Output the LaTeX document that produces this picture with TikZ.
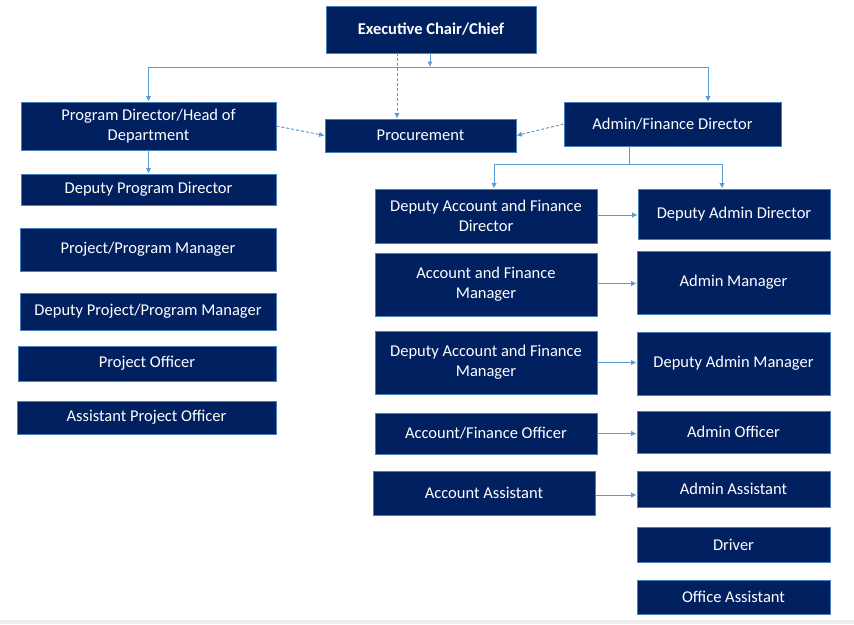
\documentclass[tikz,border=0pt]{standalone}
\usepackage{fontspec}
\setmainfont{Carlito}
\usetikzlibrary{arrows.meta}
\definecolor{navy}{HTML}{002060}
\definecolor{edgeblue}{HTML}{5B9BD5}
\definecolor{boxline}{HTML}{4A7EBB}
\definecolor{strip}{HTML}{EDEDED}
\tikzset{
  box/.style={draw=boxline, line width=0.8pt, fill=navy, text=white, inner sep=0pt, align=center,
    font=\fontsize{16.5}{20}\selectfont},
  conn/.style={draw=edgeblue, line width=1pt},
  arr/.style={conn, -{Latex[length=5.5pt,width=5.5pt]}},
  darr/.style={arr, dashed, dash pattern=on 3pt off 2pt},
}
\begin{document}
\begin{tikzpicture}[x=1pt,y=-1pt]
\useasboundingbox (0,0) rectangle (854,624);
\fill[strip] (0,620) rectangle (854,624);

\node[box, minimum width=210, minimum height=47, font=\fontsize{16.5}{20}\selectfont\bfseries] (exec) at (431,29.5) {Executive Chair/Chief};
\node[box, minimum width=255, minimum height=48] (pd) at (148.5,126) {Program Director/Head of\\Department};
\node[box, minimum width=191, minimum height=33] (proc) at (420.5,135.5) {Procurement};
\node[box, minimum width=217, minimum height=44] (afd) at (672.5,124) {Admin/Finance Director};

\node[box, minimum width=255, minimum height=31] (dpd) at (148.5,189.5) {Deputy Program Director};
\node[box, minimum width=256, minimum height=43] (ppm) at (148,249.5) {Project/Program Manager};
\node[box, minimum width=256, minimum height=37] (dppm) at (148,311.5) {Deputy Project/Program Manager};
\node[box, minimum width=258, minimum height=35] (po) at (147,363.5) {Project Officer};
\node[box, minimum width=259, minimum height=33] (apo) at (146.5,417.5) {Assistant Project Officer};

\node[box, minimum width=222, minimum height=54] (dafd) at (486,216) {Deputy Account and Finance\\Director};
\node[box, minimum width=192, minimum height=50] (dad) at (734,214) {Deputy Admin Director};
\node[box, minimum width=222, minimum height=63] (afm) at (486,284.5) {Account and Finance\\Manager};
\node[box, minimum width=193, minimum height=63] (am) at (733.5,282.5) {Admin Manager};
\node[box, minimum width=222, minimum height=63] (dafm) at (486,362.5) {Deputy Account and Finance\\Manager};
\node[box, minimum width=193, minimum height=63] (dam) at (733.5,363.5) {Deputy Admin Manager};
\node[box, minimum width=222, minimum height=41] (afo) at (486,433.5) {Account/Finance Officer};
\node[box, minimum width=193, minimum height=42] (ao) at (733.5,432) {Admin Officer};
\node[box, minimum width=222, minimum height=44] (aa) at (484,493) {Account Assistant};
\node[box, minimum width=193, minimum height=36] (aas) at (733.5,489) {Admin Assistant};
\node[box, minimum width=193, minimum height=35] (drv) at (733.5,544.5) {Driver};
\node[box, minimum width=193, minimum height=34] (oa) at (733.5,597) {Office Assistant};

% top bus
\coordinate (busL) at (148.5,67);
\coordinate (busR) at (708,67);
\coordinate (busM) at (430,67);
\draw[conn] (busL) -- (busR);
\draw[arr] (busM |- exec.south) -- (busM);
\draw[arr] (busL) -- (pd.north);
\draw[arr] (busR) -- (busR |- afd.north);

% dashed links to procurement
\coordinate (dx) at (397,0);
\draw[darr] (dx |- exec.south) -- (dx |- proc.north);
\draw[darr] (pd.east) -- (proc.west);
\draw[darr] (afd.west) -- (proc.east);

% program side
\draw[arr] (pd.south) -- (dpd.north);

% admin/finance bus
\coordinate (j) at (629,164);
\coordinate (jl) at (494,164);
\coordinate (jr) at (722,164);
\draw[conn] (j |- afd.south) -- (j);
\draw[conn] (jl) -- (jr);
\draw[arr] (jl) -- (jl |- dafd.north);
\draw[arr] (jr) -- (jr |- dad.north);

% horizontal links
\draw[arr] ([yshift=1]dafd.east) -- ([yshift=1]dafd.east -| dad.west);
\draw[arr] ([yshift=1]afm.east) -- ([yshift=1]afm.east -| am.west);
\draw[arr] (dafm.east) -- (dafm.east -| dam.west);
\draw[arr] (afo.east) -- (afo.east -| ao.west);
\draw[arr] ([yshift=-2]aa.east) -- ([yshift=-2]aa.east -| aas.west);
\end{tikzpicture}
\end{document}
